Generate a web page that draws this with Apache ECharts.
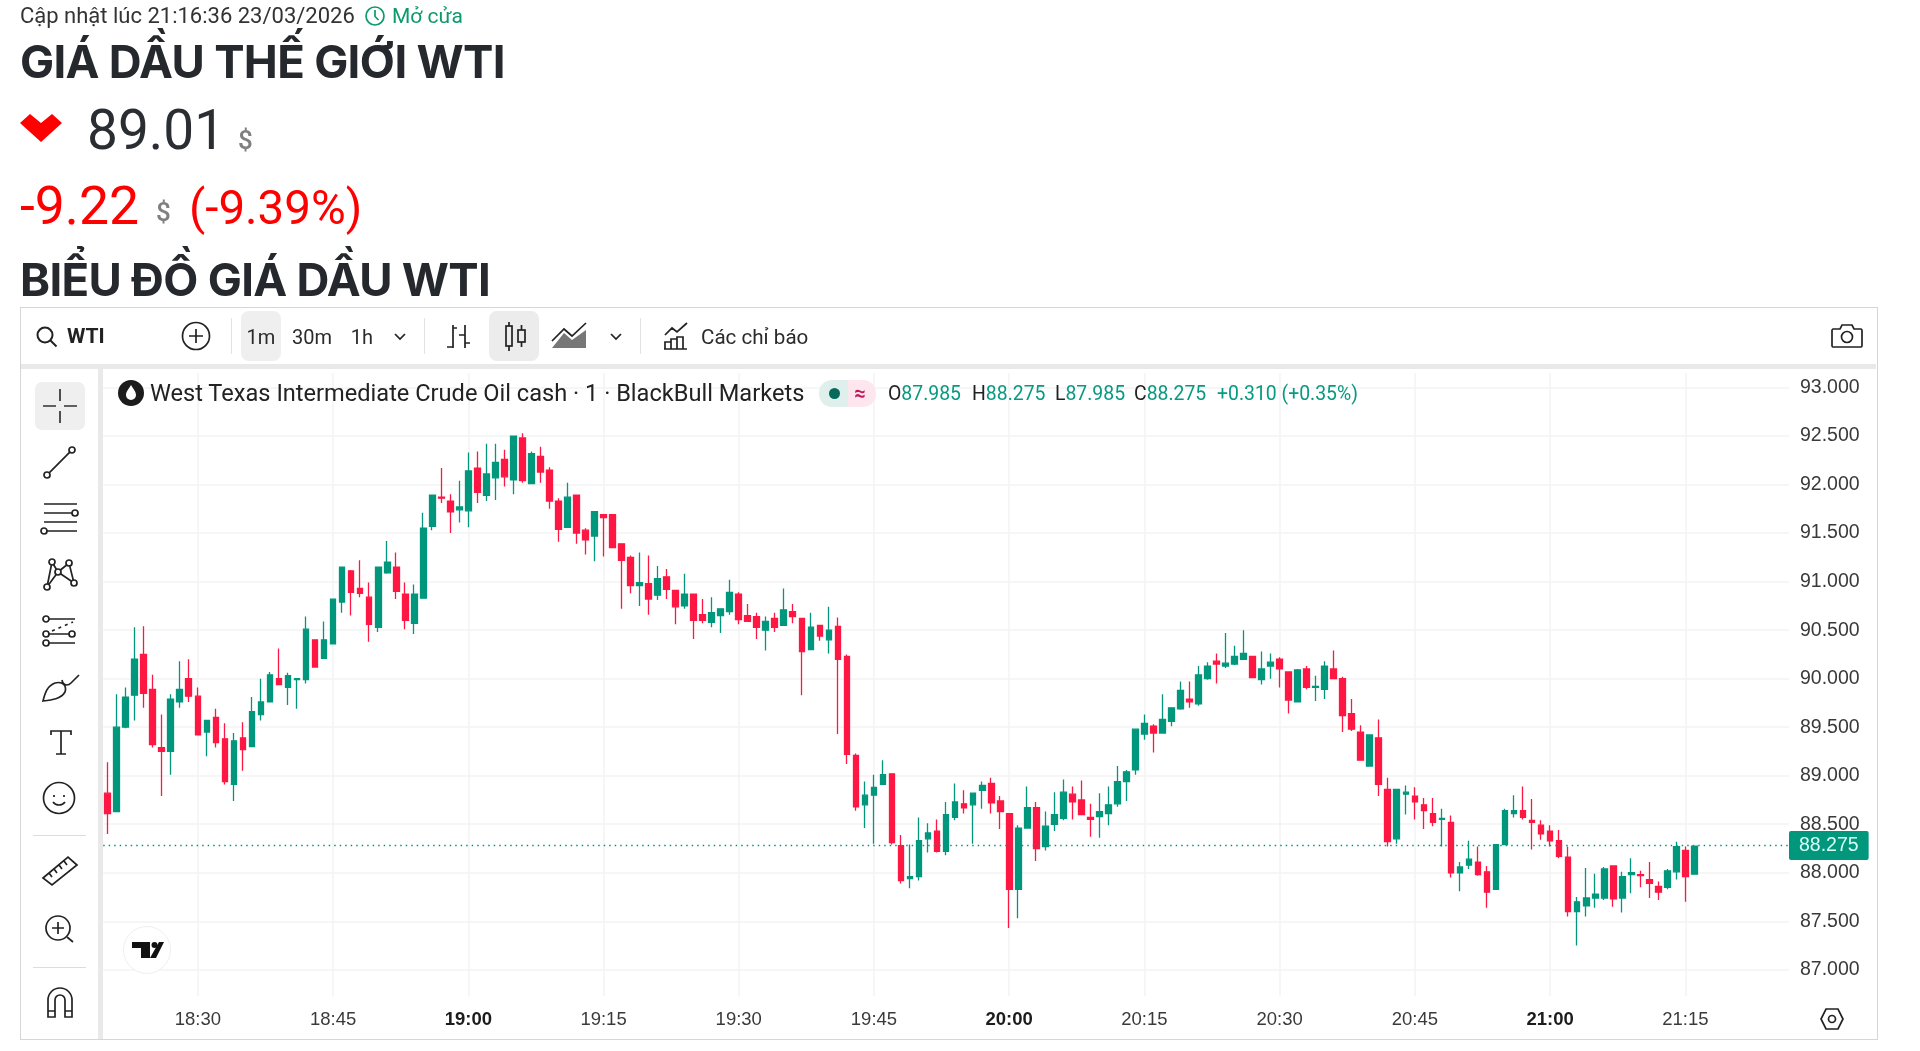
<!DOCTYPE html>
<html>
<head>
<meta charset="utf-8">
<title>Giá dầu WTI</title>
<script src="https://cdn.jsdelivr.net/npm/echarts@6/dist/echarts.min.js"></script>
<style>
  html, body { margin: 0; padding: 0; background: #fff; }
  body { position: relative; width: 1920px; height: 1051px; overflow: hidden; font-family: Roboto, sans-serif; color: #2a2e33; }
  #main { position: absolute; left: 0; top: 0; width: 1920px; height: 1051px; }
  .t { position: absolute; white-space: nowrap; line-height: 1; transform: translateY(-50%); }
  .c { transform: translate(-50%, -50%); }
  .h1 { font-family: Inter, sans-serif; font-weight: 700; font-size: 45.5px; letter-spacing: -0.7px; color: #25282c; }
  .box { position: absolute; }
  svg { position: absolute; overflow: visible; fill: none; stroke: #222; stroke-width: 1.7; }
  .tb { font-size: 20px; color: #2b2b2b; }
  .ohlc { font-size: 19.4px; color: #089981; }
  .ohlc b { font-weight: 400; color: #222; }
</style>
</head>
<body>
<div id="main"></div>

<!-- header -->
<span class="t" style="left:20px;top:16px;font-size:22px;color:#333">Cập nhật lúc 21:16:36 23/03/2026</span>
<svg style="left:365px;top:6px" width="20" height="20" viewBox="0 0 20 20"><g stroke="#0b9a6d"><circle cx="10" cy="10" r="9"/><path d="M10 4v6.5l3.5 3.5"/></g></svg>
<span class="t" style="left:392px;top:16px;font-size:21px;color:#0b9a6d">Mở cửa</span>
<span class="t h1" style="left:20px;top:62px">GIÁ DẦU THẾ GIỚI WTI</span>
<svg style="left:20px;top:114px" width="42" height="28" viewBox="0 0 42 28"><polygon points="0,9 10,0 21,9 32,0 42,9 21,28" fill="#ff0000" stroke="none"/></svg>
<span class="t" style="left:87px;top:130px;font-size:55px">89.01</span>
<span class="t" style="left:238px;top:140px;font-size:26px;font-weight:500;color:#808080">$</span>
<span class="t" style="left:20px;top:206px;font-size:53.5px;color:#ff0000">-9.22</span>
<span class="t" style="left:156px;top:212px;font-size:26px;font-weight:500;color:#808080">$</span>
<span class="t" style="left:189px;top:209px;font-size:47.5px;color:#ff0000">(-9.39%)</span>
<span class="t h1" style="left:20px;top:280px">BIỂU ĐỒ GIÁ DẦU WTI</span>

<!-- panel frame and strips -->
<div class="box" style="left:20px;top:307px;width:1856px;height:731px;border:1.5px solid #d6d6d6"></div>
<div class="box" style="left:21px;top:364px;width:1855px;height:5px;background:#e9e9ea"></div>
<div class="box" style="left:98px;top:369px;width:5px;height:670px;background:#e9e9ea"></div>

<!-- top toolbar -->
<svg style="left:36px;top:326px" width="22" height="22" viewBox="0 0 22 22"><circle cx="9" cy="9" r="7.5" stroke-width="2"/><path d="M14.5 14.5l6 6" stroke-width="2"/></svg>
<span class="t" style="left:67px;top:336px;font-size:21px;font-weight:700;color:#222">WTI</span>
<svg style="left:182px;top:322px" width="28" height="28" viewBox="0 0 28 28"><circle cx="14" cy="14" r="13.5"/><path d="M14 7v14M7 14h14"/></svg>
<div class="box" style="left:231px;top:318px;width:1px;height:36px;background:#e2e2e2"></div>
<div class="box" style="left:241px;top:311px;width:40px;height:50px;border-radius:8px;background:#efefef"></div>
<span class="t c tb" style="left:261px;top:337px">1m</span>
<span class="t c tb" style="left:312px;top:337px">30m</span>
<span class="t c tb" style="left:362px;top:337px">1h</span>
<svg style="left:394px;top:333px" width="12" height="7" viewBox="0 0 12 7"><path d="M1 1l5 5 5-5"/></svg>
<div class="box" style="left:424px;top:318px;width:1px;height:36px;background:#e2e2e2"></div>
<svg style="left:447px;top:323px" width="24" height="28" viewBox="0 0 24 28"><path d="M6 2v23M6 5h4M0 24h6M18 2v23M12 12h6M18 20h5"/></svg>
<div class="box" style="left:489px;top:311px;width:50px;height:50px;border-radius:8px;background:#ececec"></div>
<svg style="left:505px;top:322px" width="22" height="30" viewBox="0 0 22 30"><path d="M4 0v4M4 24v5M16.500 3v5M16.500 20v5"/><rect x="1" y="4" width="6" height="20"/><rect x="13" y="8" width="7" height="12"/></svg>
<svg style="left:552px;top:323px" width="34" height="25" viewBox="0 0 34 25"><path d="M0 18L12 6l8 7L34 0"/><path d="M0 25L12 10l8 7L34 7v18z" fill="#555" stroke="none" opacity=".8"/></svg>
<svg style="left:610px;top:333px" width="12" height="7" viewBox="0 0 12 7"><path d="M1 1l5 5 5-5"/></svg>
<div class="box" style="left:640px;top:318px;width:1px;height:36px;background:#e2e2e2"></div>
<svg style="left:663px;top:323px" width="27" height="27" viewBox="0 0 27 27"><path d="M2 12l7-7 5 4 10-9M2 26v-7h6v7M8 26v-10h6v10M14 26v-12h6v12M1 26h23"/></svg>
<span class="t tb" style="left:701px;top:337px;font-size:20.6px">Các chỉ báo</span>
<svg style="left:1831px;top:324px" width="32" height="24" viewBox="0 0 32 24"><path d="M2 5h7l2-4h10l2 4h7a1.500 1.500 0 0 1 1 1.500v15a1.500 1.500 0 0 1-1 1.500H2a1.500 1.500 0 0 1-1-1.500V6.500A1.500 1.500 0 0 1 2 5z"/><circle cx="16" cy="13" r="5.500"/></svg>

<!-- left toolbar -->
<div class="box" style="left:35px;top:382px;width:50px;height:48px;border-radius:7px;background:#efefef"></div>
<svg style="left:42px;top:388px" width="36" height="36" viewBox="0 0 36 36"><path d="M18 1v12M18 23v12M1 18h13M22 18h13" stroke="#333"/></svg>
<svg style="left:44px;top:448px" width="34" height="30" viewBox="0 0 34 30"><circle cx="3" cy="27" r="3"/><circle cx="28" cy="2" r="3"/><path d="M5.200 24.800L25.800 4.200"/></svg>
<svg style="left:41px;top:504px" width="38" height="30" viewBox="0 0 38 30"><path d="M3 0h33M3 9h31M3 18h33M6 27h30"/><circle cx="34" cy="9" r="3" fill="#fff"/><circle cx="3" cy="27" r="3" fill="#fff"/></svg>
<svg style="left:44px;top:558px" width="33" height="32" viewBox="0 0 33 32"><path d="M8 4L3 29L14 14L8 4M14 14L25 5L30 25L14 14"/><circle cx="8" cy="4" r="3" fill="#fff"/><circle cx="25" cy="5" r="3" fill="#fff"/><circle cx="14" cy="14" r="3" fill="#fff"/><circle cx="3" cy="29" r="3" fill="#fff"/><circle cx="30" cy="25" r="3" fill="#fff"/></svg>
<svg style="left:41px;top:616px" width="38" height="30" viewBox="0 0 38 30"><path d="M8 3h26M8 18h20M8 27h26"/><path d="M11 15l21-9" stroke-dasharray="3 4"/><circle cx="5" cy="3" r="3"/><circle cx="5" cy="18" r="3"/><circle cx="5" cy="27" r="3"/><circle cx="31" cy="18" r="3"/></svg>
<svg style="left:42px;top:672px" width="38" height="30" viewBox="0 0 38 30"><path d="M1 29c2-8 4-15 12-18 8-2 12 3 10 9-4 7-13 8-22 9zM20 8c1 6 6 6 9 3l8-8"/></svg>
<svg style="left:50px;top:730px" width="22" height="25" viewBox="0 0 22 25"><path d="M1 5V1h20v4M11 1v23M6 24h10"/></svg>
<svg style="left:43px;top:782px" width="32" height="32" viewBox="0 0 32 32"><circle cx="16" cy="16" r="15.500"/><path d="M11 13v2M21 13v2M10 20c3 4 9 4 12 0"/></svg>
<div class="box" style="left:33px;top:835px;width:53px;height:1px;background:#ddd"></div>
<svg style="left:42px;top:856px" width="36" height="30" viewBox="0 0 36 30"><path d="M1 22L26 1l9 8L10 29zM7 17l3 4M12 13l3 4M17 9l3 4M22 5l3 4"/></svg>
<svg style="left:45px;top:915px" width="30" height="28" viewBox="0 0 30 28"><circle cx="13" cy="13" r="12"/><path d="M13 7v12M7 13h12M22 22l6 5"/></svg>
<div class="box" style="left:33px;top:967px;width:53px;height:1px;background:#ddd"></div>
<svg style="left:47px;top:988px" width="26" height="30" viewBox="0 0 26 30"><path d="M1 29V12a12 12 0 0 1 24 0v17h-7V12a5 5 0 0 0-10 0v17zM1 23h7M18 23h7"/></svg>

<!-- legend row -->
<svg style="left:118px;top:380px" width="26" height="26" viewBox="0 0 26 26"><circle cx="13" cy="13" r="13" fill="#1c1c1c" stroke="none"/><path d="M13 5c3 5 5 7 5 10a5 5 0 0 1-10 0c0-3 2-5 5-10z" fill="#fff" stroke="none"/></svg>
<span class="t" style="left:150px;top:394px;font-size:23.6px;color:#222">West Texas Intermediate Crude Oil cash · 1 · BlackBull Markets</span>
<div class="box" style="left:819px;top:380px;width:29px;height:27px;border-radius:13px 0 0 13px;background:#dff0ec"></div>
<div class="box" style="left:848px;top:380px;width:28px;height:27px;border-radius:0 13px 13px 0;background:#fde6ee"></div>
<div class="box" style="left:829px;top:388px;width:11px;height:11px;border-radius:50%;background:#07695a"></div>
<span class="t c" style="left:860px;top:393px;font-size:20px;font-weight:700;color:#c2185b">≈</span>
<span class="t ohlc" style="left:888px;top:394px"><b>O</b>87.985</span>
<span class="t ohlc" style="left:972px;top:394px"><b>H</b>88.275</span>
<span class="t ohlc" style="left:1055px;top:394px"><b>L</b>87.985</span>
<span class="t ohlc" style="left:1134px;top:394px"><b>C</b>88.275</span>
<span class="t ohlc" style="left:1217px;top:394px">+0.310 (+0.35%)</span>

<!-- TradingView badge -->
<div class="box" style="left:123px;top:926px;width:46px;height:46px;border-radius:50%;background:#fff;border:1.500px solid #eeeeee"></div>
<svg style="left:132px;top:942px" width="32" height="17" viewBox="0 0 32 17"><path d="M0 0h18v16H9V6H0z" fill="#111" stroke="none"/><circle cx="22.500" cy="3" r="3" fill="#111" stroke="none"/><path d="M27 0h5l-8 16h-6z" fill="#111" stroke="none"/></svg>

<svg style="left:1820px;top:1007px" width="24" height="24" viewBox="0 0 24 24"><path d="M6 2h12l5 10-5 10H6L1 12z"/><circle cx="12" cy="12" r="3.500"/></svg>

<script>
    // one bar per minute, 18:20 to 21:16, then empty room on the right up to 21:26
    var firstMinute = 18 * 60 + 20;
    var slotCount = 187;
    var times = [];
    for (var m = 0; m < slotCount; m++) {
        var t = firstMinute + m;
        var mm = t % 60;
        times.push(Math.floor(t / 60) + ':' + (mm < 10 ? '0' + mm : mm));
    }

    var timeTicks = ['18:30', '18:45', '19:00', '19:15', '19:30', '19:45', '20:00', '20:15', '20:30', '20:45', '21:00', '21:15'];
    var hourTicks = ['19:00', '20:00', '21:00'];
    var priceTicks = [87, 87.5, 88, 88.5, 89, 89.5, 90, 90.5, 91, 91.5, 92, 92.5, 93];
    var lastPrice = 88.275;

    var opens = [
        88.82, 88.63, 89.50, 89.83, 90.25, 89.89, 89.29, 89.25, 89.76, 90.00,
        89.82, 89.45, 89.60, 89.38, 88.91, 89.39, 89.30, 89.63, 89.76, 90.00,
        89.91, 89.99, 89.99, 90.40, 90.21, 90.36, 90.79, 91.11, 90.93, 90.84,
        90.53, 91.09, 91.15, 90.87, 90.57, 90.83, 91.57, 91.87, 91.83, 91.74,
        91.73, 92.17, 91.89, 92.07, 92.26, 92.05, 92.48, 92.01, 92.29, 92.15,
        91.83, 91.56, 91.89, 91.53, 91.47, 91.69, 91.69, 91.39, 91.25, 90.96,
        90.98, 90.86, 91.05, 90.91, 90.75, 90.87, 90.66, 90.58, 90.65, 90.69,
        90.87, 90.65, 90.64, 90.50, 90.62, 90.55, 90.69, 90.62, 90.30, 90.55,
        90.40, 90.54, 90.23, 89.21, 88.70, 88.80, 88.91, 89.02, 88.28, 87.94,
        87.96, 88.35, 88.43, 88.22, 88.57, 88.71, 88.70, 88.85, 88.92, 88.74,
        88.61, 87.83, 88.46, 88.67, 88.27, 88.50, 88.56, 88.81, 88.75, 88.57,
        88.58, 88.61, 88.71, 88.94, 89.06, 89.43, 89.51, 89.44, 89.56, 89.69,
        89.79, 89.74, 90.00, 90.18, 90.13, 90.15, 90.20, 90.23, 89.99, 90.13,
        90.20, 90.07, 89.76, 90.10, 89.91, 89.89, 90.10, 90.00, 89.64, 89.45,
        89.10, 89.39, 88.86, 88.35, 88.81, 88.79, 88.70, 88.61, 88.55, 88.52,
        88.00, 88.08, 88.11, 88.01, 87.83, 88.29, 88.61, 88.64, 88.54, 88.49,
        88.43, 88.33, 88.16, 87.60, 87.66, 87.74, 87.74, 88.07, 87.74, 87.98,
        87.98, 87.93, 87.86, 87.85, 88.01, 88.23, 87.985
    ];
    var closes = [
        88.61, 89.50, 89.81, 90.20, 89.85, 89.32, 89.25, 89.79, 89.89, 89.82,
        89.42, 89.57, 89.34, 88.94, 89.36, 89.27, 89.66, 89.76, 90.04, 89.94,
        90.03, 90.00, 90.51, 90.12, 90.40, 90.82, 91.15, 90.89, 90.88, 90.56,
        91.15, 91.20, 90.90, 90.60, 90.87, 91.55, 91.89, 91.86, 91.72, 91.77,
        92.14, 91.92, 92.11, 92.23, 92.08, 92.50, 92.04, 92.32, 92.13, 91.83,
        91.54, 91.87, 91.50, 91.43, 91.72, 91.66, 91.35, 91.22, 90.96, 90.99,
        90.82, 91.03, 90.92, 90.74, 90.87, 90.60, 90.60, 90.68, 90.72, 90.89,
        90.61, 90.59, 90.53, 90.59, 90.53, 90.71, 90.64, 90.28, 90.53, 90.44,
        90.50, 90.20, 89.22, 88.68, 88.80, 88.88, 89.01, 88.31, 87.92, 87.96,
        88.33, 88.41, 88.22, 88.60, 88.73, 88.67, 88.82, 88.90, 88.72, 88.63,
        87.83, 88.46, 88.67, 88.25, 88.48, 88.60, 88.83, 88.73, 88.60, 88.55,
        88.63, 88.70, 88.94, 89.04, 89.48, 89.54, 89.44, 89.58, 89.70, 89.88,
        89.76, 90.04, 90.13, 90.15, 90.16, 90.23, 90.26, 90.01, 90.10, 90.17,
        90.10, 89.78, 90.09, 89.91, 89.92, 90.13, 90.00, 89.62, 89.48, 89.16,
        89.42, 88.91, 88.32, 88.86, 88.83, 88.73, 88.64, 88.52, 88.56, 88.00,
        88.06, 88.14, 87.98, 87.80, 88.29, 88.64, 88.64, 88.57, 88.52, 88.40,
        88.33, 88.17, 87.60, 87.70, 87.74, 87.78, 88.04, 87.73, 87.96, 88.00,
        87.97, 87.89, 87.80, 88.02, 88.27, 87.96, 88.275
    ];
    var lows = [
        88.40, 88.63, 89.49, 89.57, 89.70, 89.29, 88.79, 89.01, 89.70, 89.76,
        89.42, 89.20, 89.29, 88.91, 88.74, 89.05, 89.30, 89.57, 89.76, 89.94,
        89.73, 89.69, 89.95, 90.12, 90.21, 90.36, 90.68, 90.65, 90.84, 90.38,
        90.48, 91.08, 90.82, 90.51, 90.46, 90.83, 91.53, 91.81, 91.50, 91.61,
        91.56, 91.81, 91.83, 91.84, 91.98, 91.90, 92.02, 92.01, 92.02, 91.75,
        91.41, 91.56, 91.39, 91.28, 91.21, 91.26, 91.35, 90.72, 90.88, 90.75,
        90.66, 90.81, 90.82, 90.56, 90.72, 90.41, 90.57, 90.53, 90.47, 90.66,
        90.56, 90.59, 90.41, 90.29, 90.48, 90.55, 90.57, 89.83, 90.30, 90.39,
        90.26, 89.43, 89.12, 88.64, 88.46, 88.30, 88.91, 88.29, 87.89, 87.84,
        87.92, 88.21, 88.21, 88.18, 88.54, 88.61, 88.30, 88.66, 88.61, 88.45,
        87.43, 87.53, 88.46, 88.12, 88.23, 88.43, 88.54, 88.55, 88.60, 88.37,
        88.36, 88.49, 88.68, 88.74, 89.01, 89.37, 89.24, 89.44, 89.51, 89.68,
        89.70, 89.72, 89.99, 89.95, 90.11, 90.14, 90.20, 90.01, 89.94, 90.00,
        89.91, 89.64, 89.76, 89.89, 89.77, 89.79, 90.00, 89.45, 89.46, 89.16,
        89.10, 88.79, 88.27, 88.30, 88.60, 88.55, 88.45, 88.48, 88.27, 87.95,
        87.81, 88.04, 87.97, 87.64, 87.83, 88.29, 88.57, 88.55, 88.24, 88.34,
        88.27, 88.15, 87.55, 87.25, 87.55, 87.64, 87.72, 87.65, 87.59, 87.79,
        87.85, 87.74, 87.72, 87.83, 87.93, 87.70, 87.985
    ];
    var highs = [
        89.14, 89.84, 89.91, 90.53, 90.54, 90.04, 89.63, 89.84, 90.18, 90.20,
        89.91, 89.57, 89.69, 89.54, 89.44, 89.55, 89.81, 90.00, 90.07, 90.31,
        90.06, 90.00, 90.64, 90.40, 90.59, 90.82, 91.15, 91.12, 91.22, 90.99,
        91.15, 91.42, 91.30, 90.99, 90.97, 91.71, 91.89, 92.17, 91.90, 92.04,
        92.33, 92.34, 92.42, 92.42, 92.36, 92.50, 92.53, 92.34, 92.39, 92.18,
        91.86, 92.02, 91.89, 91.55, 91.72, 91.69, 91.69, 91.39, 91.27, 91.30,
        91.27, 91.16, 91.13, 90.91, 91.08, 90.87, 90.82, 90.84, 90.72, 91.02,
        90.89, 90.77, 90.68, 90.64, 90.68, 90.93, 90.77, 90.62, 90.68, 90.55,
        90.74, 90.63, 90.25, 89.23, 88.94, 89.01, 89.16, 89.02, 88.39, 88.29,
        88.57, 88.51, 88.55, 88.73, 88.92, 88.85, 88.82, 88.94, 88.98, 88.79,
        88.61, 88.49, 88.89, 88.73, 88.63, 88.83, 88.96, 88.89, 88.95, 88.71,
        88.82, 88.89, 89.10, 89.06, 89.48, 89.63, 89.53, 89.84, 89.70, 89.97,
        89.97, 90.13, 90.17, 90.26, 90.47, 90.34, 90.50, 90.23, 90.28, 90.26,
        90.22, 90.07, 90.10, 90.13, 90.03, 90.18, 90.29, 90.02, 89.79, 89.52,
        89.42, 89.58, 88.98, 88.86, 88.90, 88.88, 88.77, 88.77, 88.66, 88.59,
        88.11, 88.33, 88.27, 88.07, 88.29, 88.66, 88.80, 88.89, 88.76, 88.54,
        88.49, 88.44, 88.27, 87.75, 88.05, 87.99, 88.06, 88.07, 88.01, 88.15,
        88.02, 88.11, 87.91, 88.04, 88.32, 88.27, 88.275
    ];

    var upColor = '#00977d';
    var downColor = '#ff1744';
    var gridColor = '#f3f3f3';

    var candles = opens.map(function (o, i) {
        return [o, closes[i], lows[i], highs[i]];
    });

    function isTimeTick(index, value) {
        return timeTicks.indexOf(value) >= 0;
    }

    var myChart = echarts.init(document.getElementById('main'));
    myChart.setOption({
        animation: false,
        backgroundColor: 'transparent',
        textStyle: { fontFamily: 'Liberation Sans, Arial, sans-serif' },
        grid: { left: 103.2, top: 373, width: 1685.8, height: 623 },
        xAxis: {
            type: 'category',
            data: times,
            axisLine: { show: false },
            axisTick: { show: false },
            splitLine: {
                show: true,
                interval: isTimeTick,
                alignWithLabel: true,
                lineStyle: { color: gridColor, width: 1.5 }
            },
            axisLabel: {
                interval: isTimeTick,
                margin: 14,
                fontSize: 18.5,
                color: '#3a3a3a',
                formatter: function (v) {
                    return hourTicks.indexOf(v) >= 0 ? '{hour|' + v + '}' : v;
                },
                rich: {
                    hour: { fontSize: 18.5, fontWeight: 'bold', color: '#1c1c1c' }
                }
            }
        },
        yAxis: {
            type: 'value',
            position: 'right',
            min: 86.73,
            max: 93.15,
            axisLine: { show: false },
            axisTick: { show: false, customValues: priceTicks },
            splitLine: {
                show: true,
                lineStyle: { color: gridColor, width: 1.5 }
            },
            axisLabel: {
                customValues: priceTicks,
                margin: 11,
                fontSize: 19.5,
                padding: [4, 0, 0, 0],
                color: '#3a3a3a',
                formatter: function (v) { return v.toFixed(3); }
            }
        },
        series: [{
            name: 'WTI',
            type: 'candlestick',
            data: candles,
            barWidth: 6.2,
            itemStyle: {
                color: upColor,
                color0: downColor,
                borderColor: upColor,
                borderColor0: downColor,
                borderWidth: 1.3
            },
            markLine: {
                silent: true,
                symbol: 'none',
                animation: false,
                data: [{ yAxis: lastPrice }],
                lineStyle: { color: upColor, type: [1.5, 4], width: 1.3 },
                label: {
                    position: 'end',
                    distance: 0,
                    formatter: function () { return lastPrice.toFixed(3); },
                    backgroundColor: upColor,
                    color: '#d8fff4',
                    fontSize: 19.5,
                    padding: [6, 10, 3, 10],
                    borderRadius: 2
                }
            }
        }]
    });
</script>
</body>
</html>
